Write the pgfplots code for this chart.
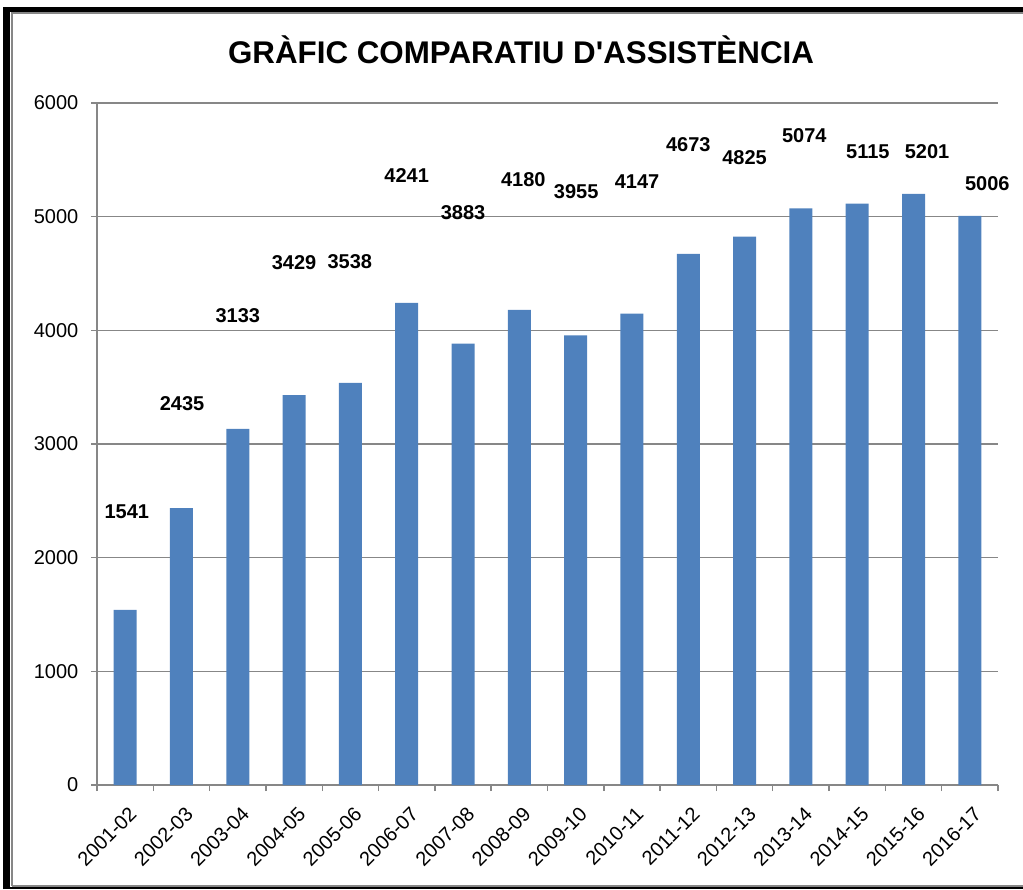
\documentclass[border=0pt]{standalone}
\usepackage{fontspec}
\setmainfont{Liberation Sans}
\newfontfamily\titlefont{Liberation Sans}
\usepackage{pgfplots}
\pgfplotsset{compat=1.18}
\definecolor{barblue}{HTML}{4F81BD}
\definecolor{gridgray}{HTML}{878787}
\begin{document}
\begin{tikzpicture}[x=0.75pt,y=0.75pt]
\useasboundingbox (0,0) rectangle (1023,889);
\begin{scope}
\clip (0,0) rectangle (1023,889);
\draw[black, line width=5.25pt] (6.5,0) -- (6.5,879.5);
\draw[black, line width=3.75pt] (3,879.5) -- (1040,879.5);
\draw[black, line width=1.5pt] (3,1) -- (1040,1);
\draw[gridgray, line width=1.5pt] (11.5,3.5) -- (11.5,876) -- (1040,876);
\draw[gridgray, line width=1.5pt] (11.5,3.5) -- (1040,3.5);
\end{scope}
\begin{axis}[
  at={(72.75pt,78pt)}, anchor=south west,
  scale only axis, width=675.75pt, height=511.5pt,
  xmin=-0.5, xmax=15.5, ymin=0, ymax=6000,
  ytick={0,1000,...,6000},
  xtick={0,...,15},
  xticklabels={2001-02,2002-03,2003-04,2004-05,2005-06,2006-07,2007-08,2008-09,2009-10,2010-11,2011-12,2012-13,2013-14,2014-15,2015-16,2016-17},
  minor xtick={-0.5,0.5,...,15.5},
  major x tick style={draw=none},
  axis x line*=bottom, axis y line*=left,
  axis line style={gridgray, line width=1.1pt, -},
  tick style={gridgray, line width=1.1pt},
  tick align=outside,
  major tick length=4.5pt, minor tick length=4.5pt,
  ymajorgrids, grid style={gridgray, line width=1.1pt},
  /pgf/number format/assume math mode=true,
  /pgf/number format/1000 sep={},
  yticklabel style={font=\fontsize{15}{18}\selectfont, anchor=east, xshift=-6pt},
  xticklabel style={font=\fontsize{15}{18}\selectfont, rotate=45, anchor=north east, inner sep=1pt, yshift=-8pt, xshift=-5pt},
  clip=false,
]
\addplot[ybar, bar width=17.25pt, fill=barblue, draw=none] coordinates {
(0,1541) (1,2435) (2,3133) (3,3429) (4,3538) (5,4241) (6,3883) (7,4180)
(8,3955) (9,4147) (10,4673) (11,4825) (12,5074) (13,5115) (14,5201) (15,5006)};
\addplot[draw=none, mark=none, nodes near coords, point meta=explicit symbolic,
  every node near coord/.style={anchor=center, font=\bfseries\fontsize{15}{18}\selectfont, text=black}]
coordinates {
(0.03,2402)[1541] (1.01,3352)[2435] (2.0,4126)[3133] (3.0,4592)[3429]
(3.99,4601)[3538] (5.0,5366)[4241] (6.0,5032)[3883] (7.07,5322)[4180]
(8.01,5217)[3955] (9.09,5305)[4147] (10.0,5630)[4673] (11.0,5516)[4825]
(12.06,5710)[5074] (13.19,5569)[5115] (14.24,5569)[5201] (15.31,5287)[5006]};
\end{axis}
\node[font=\titlefont\bfseries\fontsize{23.5}{28}\selectfont] at (521,839) {GRÀFIC COMPARATIU D'ASSISTÈNCIA};
\end{tikzpicture}
\end{document}
